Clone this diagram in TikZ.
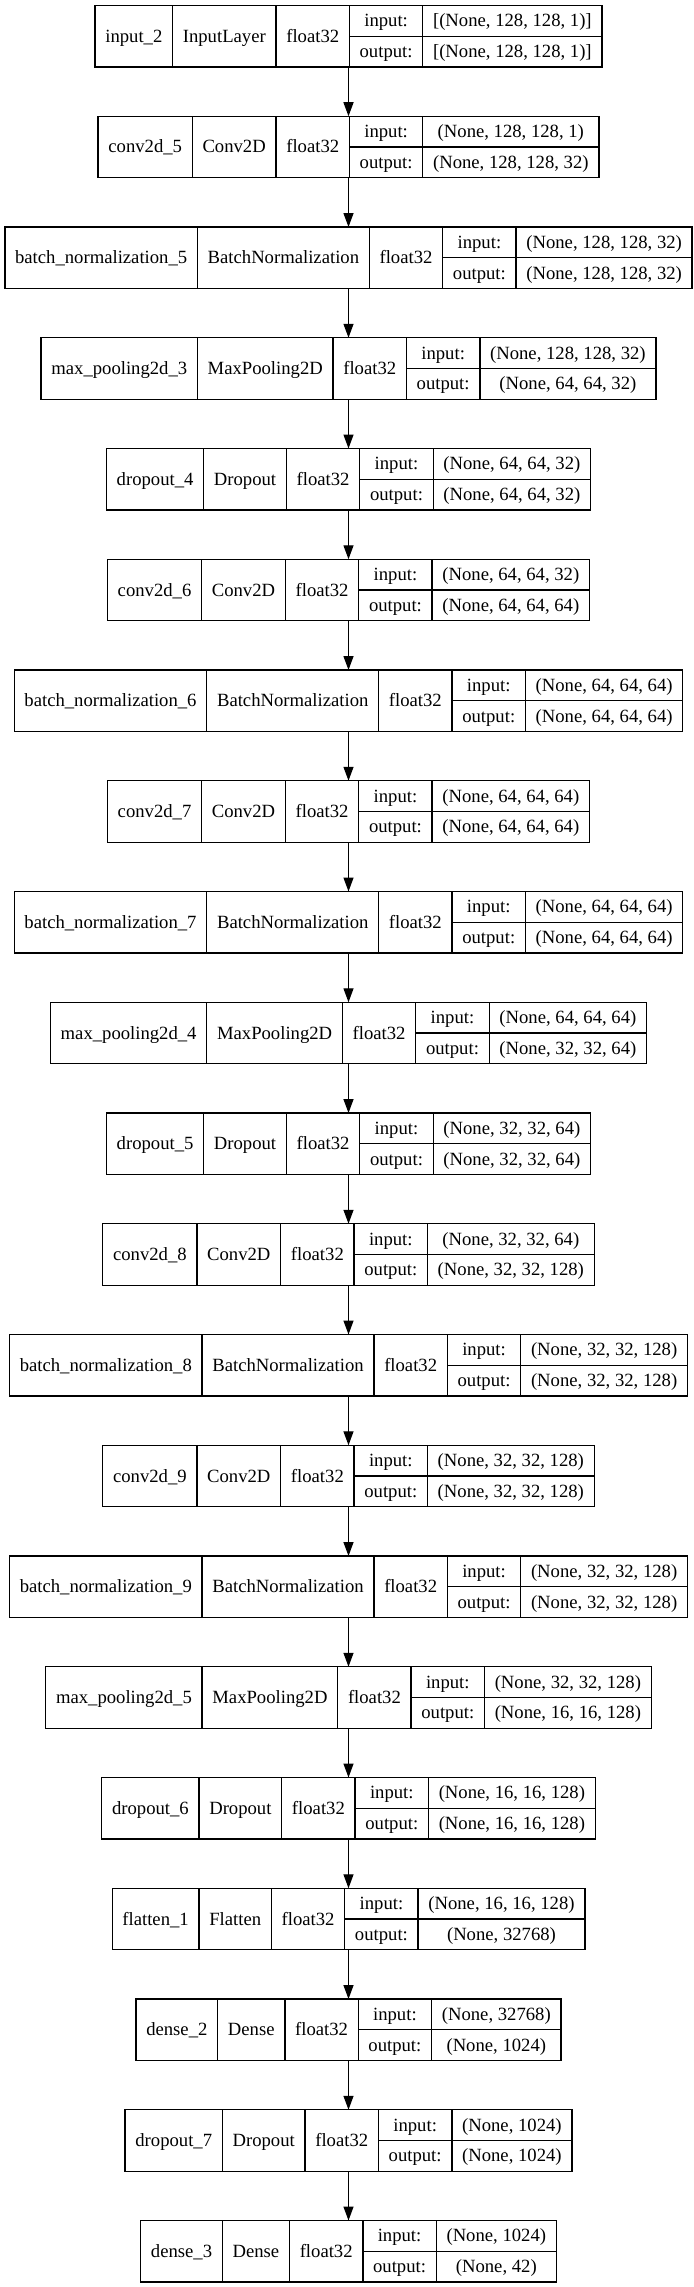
\documentclass[tikz,border=0pt]{standalone}
\usepackage{fontspec}
\setmainfont{Liberation Serif}
\usetikzlibrary{arrows.meta}
\newdimen\lwA \newdimen\lwB \newdimen\lwC \newdimen\lwD \newdimen\lwE \newdimen\lwTmp
\newsavebox\lbox
\newcommand\lfont{\fontsize{14pt}{16pt}\selectfont}
\newcommand\measure[2]{\sbox\lbox{\lfont #2}#1=\wd\lbox\relax}
\def\padpx{20.5}
\def\cxpx{348.5}
\def\bhpx{61.5}
\def\toppx{5.5}
\def\steppx{110.75}
\tikzset{
  layerbox/.style={draw=black, line width=1pt, rectangle, inner sep=0pt, outer sep=0pt},
  lbl/.style={inner sep=0pt, outer sep=0pt, font=\lfont, text height=9pt, text depth=0pt, anchor=center},
  sep/.style={draw=black, line width=1pt},
  arr/.style={draw=black, line width=1pt, -{Triangle[length=10.5pt,width=7.5pt]}},
}
% measuring pass (outside the picture)
\newcommand\prepLayer[6]{%
  \measure\lwA{#3}%
  \measure\lwB{#4}%
  \measure\lwE{#5}\measure\lwTmp{#6}%
  \ifdim\lwTmp>\lwE \lwE=\lwTmp\fi
  \expandafter\xdef\csname wA@#1\endcsname{\the\lwA}%
  \expandafter\xdef\csname wB@#1\endcsname{\the\lwB}%
  \expandafter\xdef\csname wE@#1\endcsname{\the\lwE}%
}
\newcommand\prepCommon{%
  \measure\lwC{float32}\xdef\wCommonC{\the\lwC}%
  \measure\lwD{output:}\xdef\wCommonD{\the\lwD}%
}
% drawing pass: #1 id, #2 index, #3 name, #4 class, #5 input shape, #6 output shape
\newcommand\kerasLayer[6]{%
  \pgfmathsetmacro\fa{\csname wA@#1\endcsname/0.75+\padpx}%
  \pgfmathsetmacro\fb{\csname wB@#1\endcsname/0.75+\padpx}%
  \pgfmathsetmacro\fc{\wCommonC/0.75+\padpx}%
  \pgfmathsetmacro\fd{\wCommonD/0.75+\padpx}%
  \pgfmathsetmacro\fe{\csname wE@#1\endcsname/0.75+\padpx}%
  \pgfmathsetmacro\tot{\fa+\fb+\fc+\fd+\fe}%
  \pgfmathsetmacro\xa{\cxpx-\tot/2}%
  \pgfmathsetmacro\xb{\xa+\fa}%
  \pgfmathsetmacro\xc{\xb+\fb}%
  \pgfmathsetmacro\xd{\xc+\fc}%
  \pgfmathsetmacro\xe{\xd+\fd}%
  \pgfmathsetmacro\xf{\xe+\fe}%
  \pgfmathsetmacro\yt{\toppx+#2*\steppx}%
  \pgfmathsetmacro\yb{\yt+\bhpx}%
  \pgfmathsetmacro\ym{\yt+\bhpx/2}%
  \pgfmathsetmacro\yu{\yt+\bhpx/4}%
  \pgfmathsetmacro\yl{\yt+3*\bhpx/4}%
  \node[layerbox, minimum width={\tot*0.75pt}, minimum height={\bhpx*0.75pt}] (#1) at (\cxpx,\ym) {};
  \draw[sep] (\xb,\yt) -- (\xb,\yb);
  \draw[sep] (\xc,\yt) -- (\xc,\yb);
  \draw[sep] (\xd,\yt) -- (\xd,\yb);
  \draw[sep] (\xe,\yt) -- (\xe,\yb);
  \draw[sep] (\xd,\ym) -- (\xf,\ym);
  \node[lbl] (#1-name) at ({(\xa+\xb)/2},\ym) {#3};
  \node[lbl] (#1-class) at ({(\xb+\xc)/2},\ym) {#4};
  \node[lbl] (#1-dtype) at ({(\xc+\xd)/2},\ym) {float32};
  \node[lbl] (#1-inlbl) at ({(\xd+\xe)/2},\yu) {input:};
  \node[lbl] (#1-outlbl) at ({(\xd+\xe)/2},\yl) {output:};
  \node[lbl] (#1-in) at ({(\xe+\xf)/2},\yu) {#5};
  \node[lbl] (#1-out) at ({(\xe+\xf)/2},\yl) {#6};
}
\newcommand\allLayers{%
\LL{L0}{0}{input\_2}{InputLayer}{[(None, 128, 128, 1)]}{[(None, 128, 128, 1)]}%
\LL{L1}{1}{conv2d\_5}{Conv2D}{(None, 128, 128, 1)}{(None, 128, 128, 32)}%
\LL{L2}{2}{batch\_normalization\_5}{BatchNormalization}{(None, 128, 128, 32)}{(None, 128, 128, 32)}%
\LL{L3}{3}{max\_pooling2d\_3}{MaxPooling2D}{(None, 128, 128, 32)}{(None, 64, 64, 32)}%
\LL{L4}{4}{dropout\_4}{Dropout}{(None, 64, 64, 32)}{(None, 64, 64, 32)}%
\LL{L5}{5}{conv2d\_6}{Conv2D}{(None, 64, 64, 32)}{(None, 64, 64, 64)}%
\LL{L6}{6}{batch\_normalization\_6}{BatchNormalization}{(None, 64, 64, 64)}{(None, 64, 64, 64)}%
\LL{L7}{7}{conv2d\_7}{Conv2D}{(None, 64, 64, 64)}{(None, 64, 64, 64)}%
\LL{L8}{8}{batch\_normalization\_7}{BatchNormalization}{(None, 64, 64, 64)}{(None, 64, 64, 64)}%
\LL{L9}{9}{max\_pooling2d\_4}{MaxPooling2D}{(None, 64, 64, 64)}{(None, 32, 32, 64)}%
\LL{L10}{10}{dropout\_5}{Dropout}{(None, 32, 32, 64)}{(None, 32, 32, 64)}%
\LL{L11}{11}{conv2d\_8}{Conv2D}{(None, 32, 32, 64)}{(None, 32, 32, 128)}%
\LL{L12}{12}{batch\_normalization\_8}{BatchNormalization}{(None, 32, 32, 128)}{(None, 32, 32, 128)}%
\LL{L13}{13}{conv2d\_9}{Conv2D}{(None, 32, 32, 128)}{(None, 32, 32, 128)}%
\LL{L14}{14}{batch\_normalization\_9}{BatchNormalization}{(None, 32, 32, 128)}{(None, 32, 32, 128)}%
\LL{L15}{15}{max\_pooling2d\_5}{MaxPooling2D}{(None, 32, 32, 128)}{(None, 16, 16, 128)}%
\LL{L16}{16}{dropout\_6}{Dropout}{(None, 16, 16, 128)}{(None, 16, 16, 128)}%
\LL{L17}{17}{flatten\_1}{Flatten}{(None, 16, 16, 128)}{(None, 32768)}%
\LL{L18}{18}{dense\_2}{Dense}{(None, 32768)}{(None, 1024)}%
\LL{L19}{19}{dropout\_7}{Dropout}{(None, 1024)}{(None, 1024)}%
\LL{L20}{20}{dense\_3}{Dense}{(None, 1024)}{(None, 42)}%
}
\begin{document}%
\prepCommon\let\LL\prepLayer\allLayers%
\begin{tikzpicture}[x=0.75pt, y=-0.75pt]
\useasboundingbox (0,0) rectangle (693,2287);
\fill[white] (0,0) rectangle (693,2287);
\let\LL\kerasLayer
\allLayers
\foreach \i [evaluate=\i as \j using int(\i+1)] in {0,...,19} {
  \draw[arr] (L\i.south) -- (L\j.north);
}
\end{tikzpicture}%
\end{document}
